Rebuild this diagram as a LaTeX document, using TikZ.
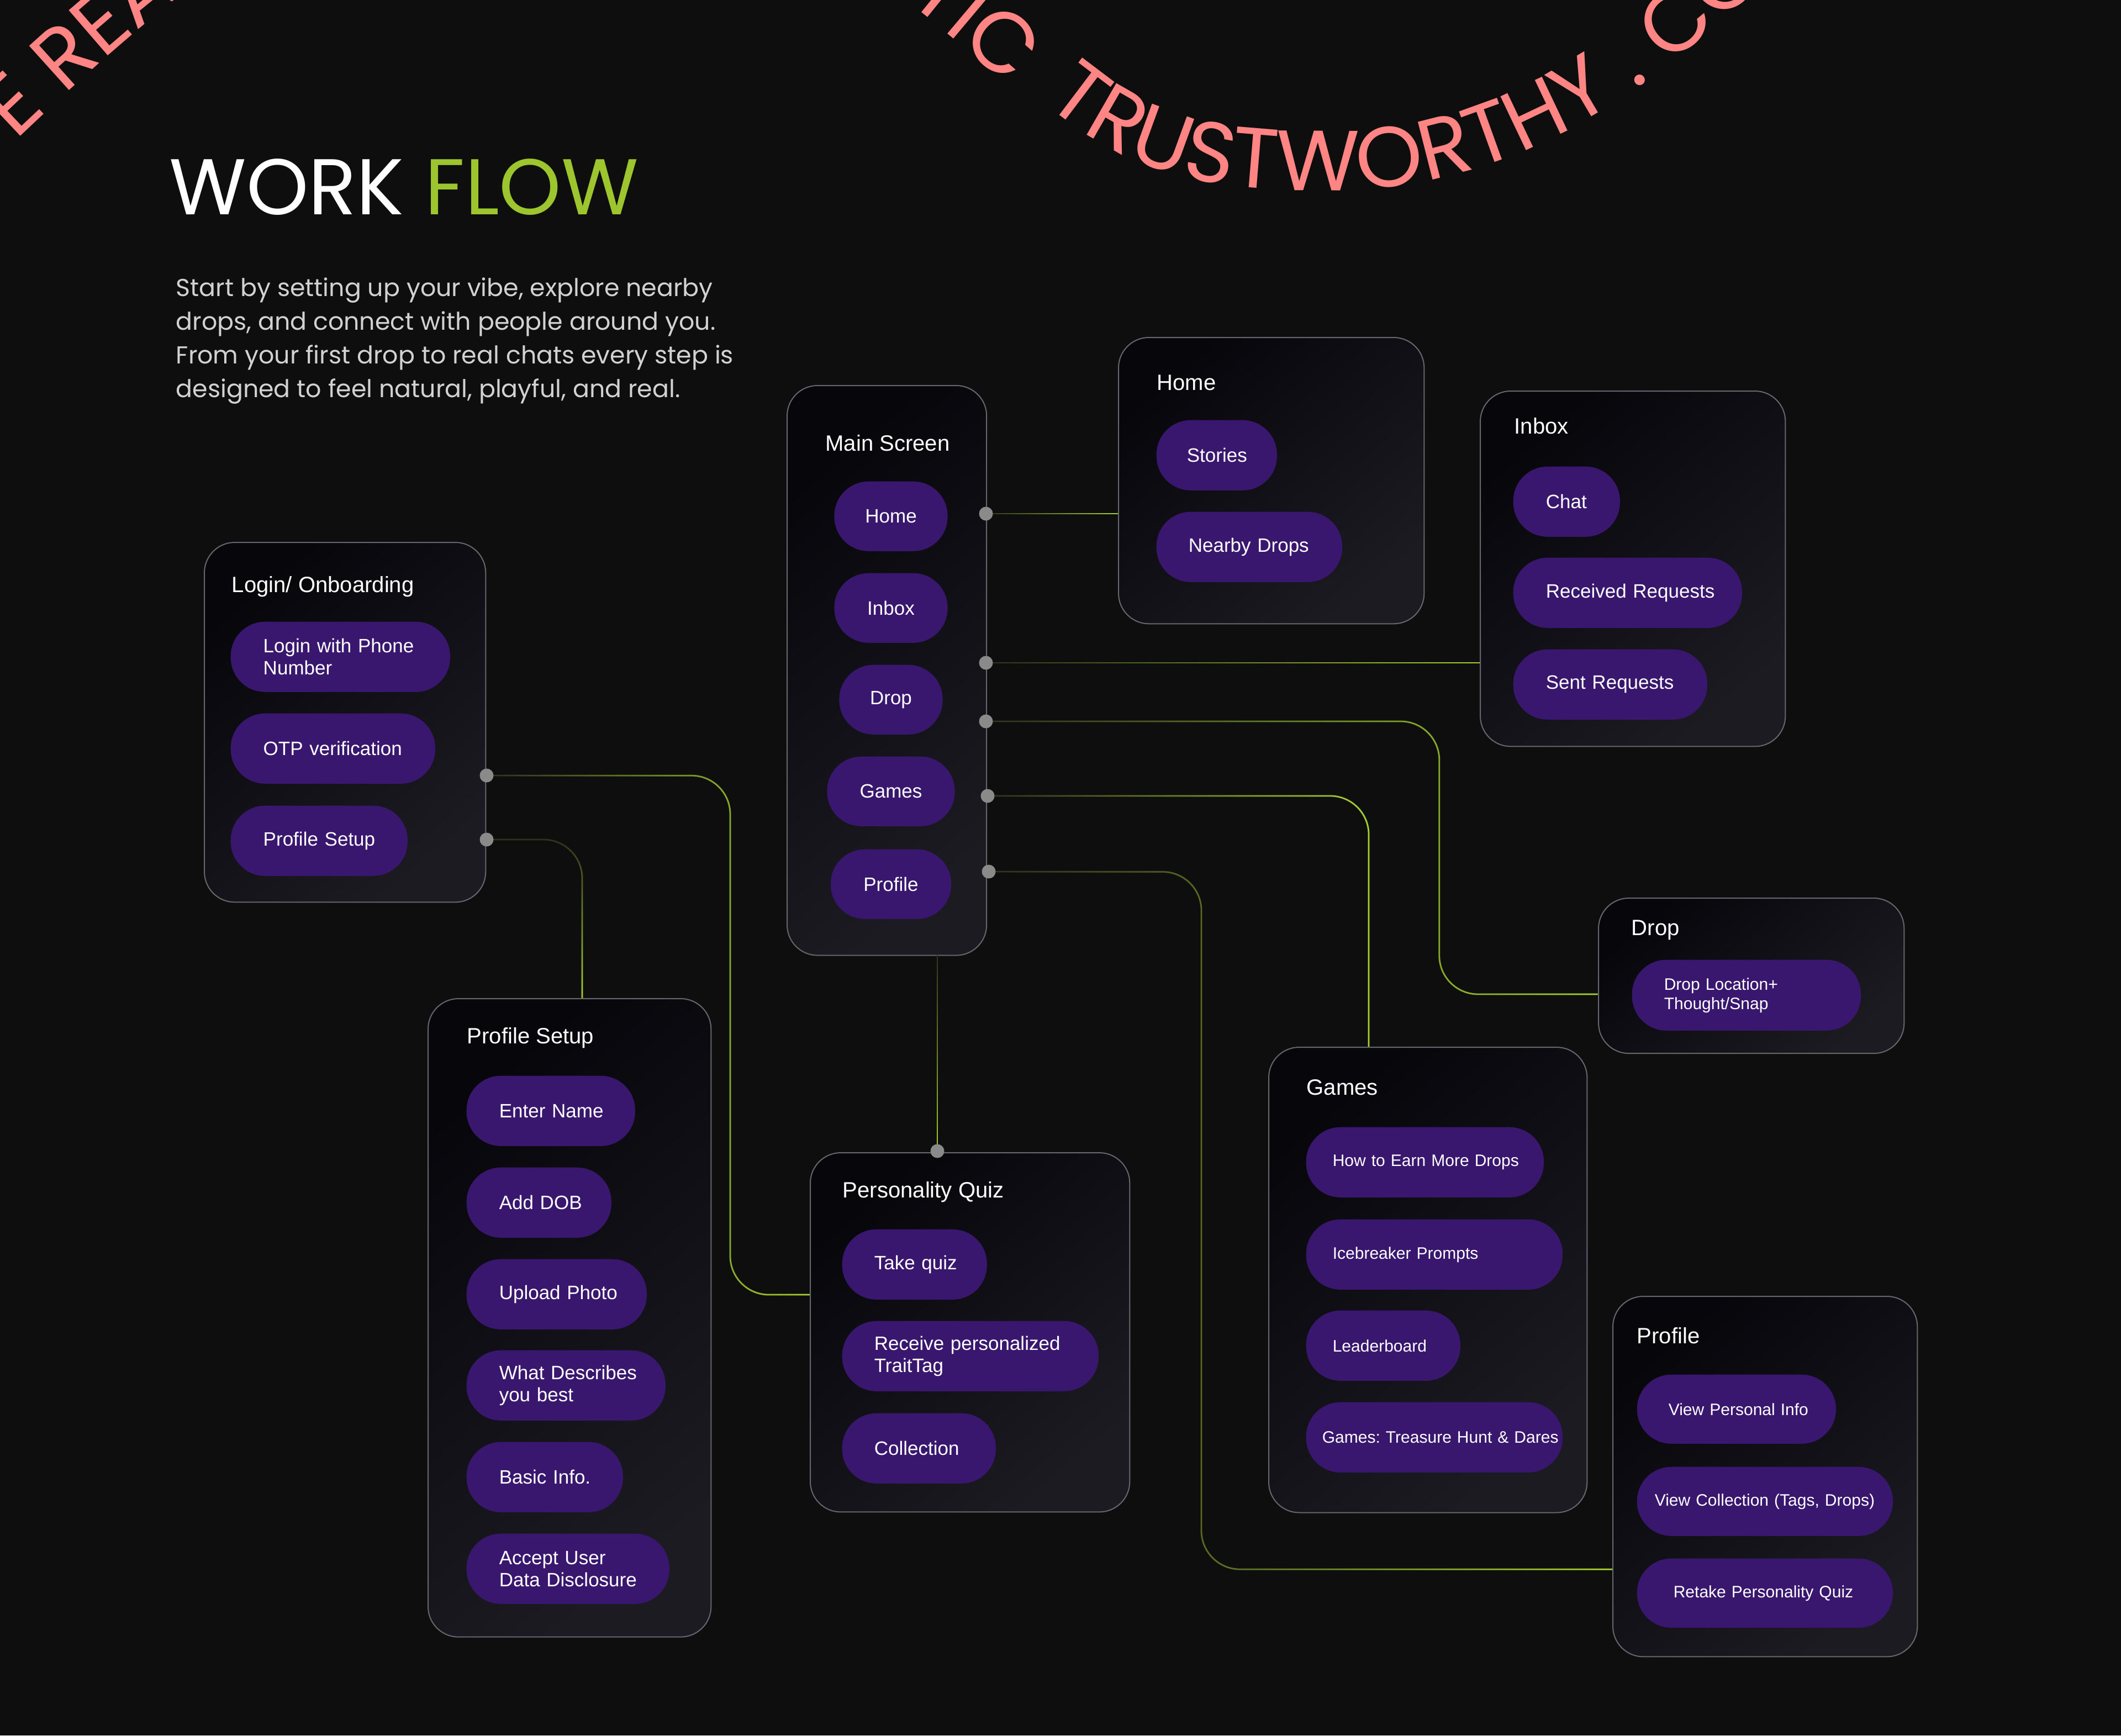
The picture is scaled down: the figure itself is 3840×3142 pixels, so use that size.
\documentclass[tikz,border=0pt]{standalone}
\usepackage{fontspec}
\setmainfont{Liberation Sans}
\newfontfamily\popfont{Poppins}
\usetikzlibrary{decorations.text,fadings}
\definecolor{bg}{HTML}{0E0E0E}
\definecolor{pillc}{HTML}{3A176E}
\definecolor{lime}{HTML}{9CC52E}
\definecolor{limeline}{HTML}{A6D22C}
\definecolor{dimline}{HTML}{2E321F}
\definecolor{panelA}{HTML}{07060B}
\definecolor{panelB}{HTML}{1C1B22}
\definecolor{border}{HTML}{66666E}
\definecolor{dotc}{HTML}{8A8A8A}
\definecolor{wave}{HTML}{FF8585}
\definecolor{para}{HTML}{D2D2D2}
\tikzfading[name=fadeR, left color=transparent!100, right color=transparent!0]
\tikzfading[name=fadeD, top color=transparent!100, bottom color=transparent!0]
\newcommand\wavefont{\popfont\fontsize{44}{44}\selectfont}
\newcommand\titlefont{\popfont\fontsize{40.7}{48}\selectfont}
\newcommand\parafont{\popfont\fontsize{12.6}{17.4}\selectfont}
\newcommand\ptitlefont{\fontsize{11.4}{13.7}\selectfont}
\newcommand\pillfont{\fontsize{9.96}{11.4}\selectfont}
\newcommand\spillfont{\fontsize{8.54}{9.96}\selectfont}
\newcommand\nb[1]{\mbox{#1}}
\frenchspacing
\begin{document}
\begin{tikzpicture}[x=0.01cm,y=-0.01cm,
  panel/.style={draw=border, line width=0.02cm, rounded corners=0.55cm, top color=panelA, bottom color=panelB, shading angle=40, anchor=north west, inner sep=0pt},
  ptitle/.style={anchor=base west, text=white, font=\ptitlefont, inner sep=0pt},
  pill/.style={fill=pillc, rounded corners=0.62cm, anchor=north west, minimum height=1.27cm, inner ysep=0pt, align=left, text=white, font=\pillfont},
  spill/.style={pill, font=\spillfont},
  mpill/.style={fill=pillc, rounded corners=0.62cm, anchor=north, minimum height=1.26cm, inner sep=0pt, align=center, text=white, font=\pillfont},
  dot/.style={circle, fill=dotc, inner sep=0pt, minimum size=0.25cm},
  conn/.style={line width=0.028cm, rounded corners=0.7cm},
  para/.style={anchor=base west, inner sep=0pt, text=para, font=\parafont}
]
\useasboundingbox (0,0) rectangle (3840,3142);
\fill[bg] (0,0) rectangle (3840,3142);

% wave text
\begin{scope}
\clip (0,0) rectangle (3840,3142);
\path[decorate, decoration={text along path, text color=wave, text={|\wavefont|SAFE REAL}, text align={left, left indent=3.65cm}}]
  (-425,705) -- (-125,405) .. controls (275,5) and (625,-295) .. (975,-295);
\path[decorate, decoration={text along path, text color=wave, text={|\wavefont|AUTHENTIC}, text align={right, right indent=0.2cm}}]
  (950,-300) .. controls (1300,-300) and (1640,-10) .. (1840,170);
\path[decorate, decoration={text along path, text color=wave, text={|\wavefont|TRUSTWORTHY . CONNECT}, text align={left, left indent=0.55cm}}]
  (1850,150) .. controls (2030,316) and (2170,345) .. (2400,345) .. controls (2650,345) and (2850,250) .. (3030,110) .. controls (3200,-22) and (3350,-200) .. (3550,-350);
\end{scope}

% title and intro
\node[anchor=base west, inner sep=0pt, font=\titlefont, text=white] (title) at (306,388) {WORK \textcolor{lime}{FLOW}};
\node[para] (p1) at (318,536) {Start by setting up your vibe, explore nearby};
\node[para] (p2) at (318,597) {drops, and connect with people around you.};
\node[para] (p3) at (318,658) {From your first drop to real chats every step is};
\node[para] (p4) at (318,719) {designed to feel natural, playful, and real.};

% panels
\node[panel, minimum width=5.09cm, minimum height=6.51cm] (login) at (369,981) {};
\node[panel, minimum width=3.61cm, minimum height=10.31cm] (main) at (1424,697) {};
\node[panel, minimum width=5.53cm, minimum height=5.18cm] (home) at (2024,610) {};
\node[panel, minimum width=5.52cm, minimum height=6.43cm] (inbox) at (2679,707) {};
\node[panel, minimum width=5.53cm, minimum height=2.81cm] (drop) at (2893,1625) {};
\node[panel, minimum width=5.76cm, minimum height=8.42cm] (games) at (2296,1895) {};
\node[panel, minimum width=5.51cm, minimum height=6.52cm] (profile) at (2919,2346) {};
\node[panel, minimum width=5.12cm, minimum height=11.55cm] (psetup) at (774,1807) {};
\node[panel, minimum width=5.78cm, minimum height=6.50cm] (quiz) at (1466,2086) {};

% panel titles
\node[ptitle] (loginT) at (419,1072) {Login/ Onboarding};
\node[ptitle, anchor=base] (mainT) at (1607,816) {Main Screen};
\node[ptitle] (homeT) at (2094,706) {Home};
\node[ptitle] (inboxT) at (2741,785) {Inbox};
\node[ptitle] (dropT) at (2953,1693) {Drop};
\node[ptitle] (gamesT) at (2365,1982) {Games};
\node[ptitle] (profileT) at (2963,2432) {Profile};
\node[ptitle] (psetupT) at (845,1889) {Profile Setup};
\node[ptitle] (quizT) at (1525,2168) {Personality Quiz};

% login pills
\node[pill, text width=2.79cm, inner xsep=0.59cm] (lp1) at (417,1125) {\nb{Login with Phone}\\\nb{Number}};
\node[pill, text width=2.52cm, inner xsep=0.59cm] (lp2) at (417,1291) {\nb{OTP verification}};
\node[pill, text width=2.02cm, inner xsep=0.59cm] (lp3) at (417,1458) {\nb{Profile Setup}};

% main screen pills
\node[mpill, minimum width=2.05cm] (m1) at (1613,871) {Home};
\node[mpill, minimum width=2.05cm] (m2) at (1613,1037) {Inbox};
\node[mpill, minimum width=1.87cm] (m3) at (1613,1203) {Drop};
\node[mpill, minimum width=2.31cm] (m4) at (1613,1369) {Games};
\node[mpill, minimum width=2.18cm] (m5) at (1613,1537) {Profile};

% home pills
\node[pill, text width=1.08cm, inner xsep=0.55cm] (h1) at (2093,760) {\nb{Stories}};
\node[pill, text width=2.20cm, inner xsep=0.58cm] (h2) at (2093,926) {\nb{Nearby Drops}};

% inbox pills
\node[pill, text width=0.75cm, inner xsep=0.59cm] (i1) at (2739,844) {\nb{Chat}};
\node[pill, text width=2.96cm, inner xsep=0.59cm] (i2) at (2739,1009) {\nb{Received Requests}};
\node[pill, text width=2.33cm, inner xsep=0.59cm] (i3) at (2739,1175) {\nb{Sent Requests}};

% drop pill
\node[spill, minimum height=1.28cm, text width=2.98cm, inner xsep=0.58cm] (d1) at (2954,1737) {\nb{Drop Location+}\\\nb{Thought/Snap}};

% games pills
\node[spill, text width=3.34cm, inner xsep=0.48cm] (g1) at (2364,2040) {\nb{How to Earn More Drops}};
\node[spill, text width=3.68cm, inner xsep=0.48cm] (g2) at (2364,2207) {\nb{Icebreaker Prompts}};
\node[spill, text width=1.83cm, inner xsep=0.48cm] (g3) at (2364,2372) {\nb{Leaderboard}};
\node[spill, text width=4.06cm, inner xsep=0.29cm] (g4) at (2364,2538) {\nb{Games: Treasure Hunt \& Dares}};

% profile pills
\node[spill, minimum height=1.25cm, text width=2.46cm, inner xsep=0.57cm] (pr1) at (2963,2488) {\nb{View Personal Info}};
\node[spill, minimum height=1.25cm, text width=3.99cm, inner xsep=0.32cm] (pr2) at (2963,2655) {\nb{View Collection (Tags, Drops)}};
\node[spill, minimum height=1.25cm, text width=3.31cm, inner xsep=0.66cm] (pr3) at (2963,2821) {\nb{Retake Personality Quiz}};

% profile setup pills
\node[pill, text width=1.87cm, inner xsep=0.59cm] (s1) at (844,1947) {\nb{Enter Name}};
\node[pill, text width=1.44cm, inner xsep=0.59cm] (s2) at (844,2113) {\nb{Add DOB}};
\node[pill, text width=2.08cm, inner xsep=0.59cm] (s3) at (844,2279) {\nb{Upload Photo}};
\node[pill, text width=2.42cm, inner xsep=0.59cm] (s4) at (844,2444) {\nb{What Describes}\\\nb{you best}};
\node[pill, text width=1.65cm, inner xsep=0.59cm] (s5) at (844,2610) {\nb{Basic Info.}};
\node[pill, text width=2.49cm, inner xsep=0.59cm] (s6) at (844,2776) {\nb{Accept User}\\\nb{Data Disclosure}};

% quiz pills
\node[pill, text width=1.46cm, inner xsep=0.58cm] (q1) at (1524,2225) {\nb{Take quiz}};
\node[pill, text width=3.48cm, inner xsep=0.58cm] (q2) at (1524,2391) {\nb{Receive personalized}\\\nb{TraitTag}};
\node[pill, text width=1.62cm, inner xsep=0.58cm] (q3) at (1524,2558) {\nb{Collection}};

% connector points
\coordinate (dL1) at (881,1404);
\coordinate (dL2) at (881,1520);
\coordinate (dM1) at (1785,930);
\coordinate (dM2) at (1785,1200);
\coordinate (dM3) at (1785,1306);
\coordinate (dM4) at (1788,1441);
\coordinate (dM5) at (1790,1578);
\coordinate (dQ) at (1697,2084);
\coordinate (mainB) at (1697,1728);
\coordinate (k3) at (2606,1306);
\coordinate (k4) at (2478,1441);
\coordinate (k5) at (2175,1578);
\coordinate (k6) at (1322,1404);
\coordinate (k7) at (1054,1520);
\coordinate (dropW) at (2893,1800);
\coordinate (profW) at (2919,2841);
\coordinate (quizW) at (1466,2344);

% connectors: dim base
\draw[conn, dimline] (dM1) -- (dM1 -| home.west);
\draw[conn, dimline] (dM2) -- (dM2 -| inbox.west);
\draw[conn, dimline] (dM3) -- (k3) -- (k3 |- dropW) -- (dropW);
\draw[conn, dimline] (dM4) -- (k4) -- (k4 |- games.north);
\draw[conn, dimline] (dM5) -- (k5) -- (k5 |- profW) -- (profW);
\draw[conn, dimline] (dL1) -- (k6) -- (k6 |- quizW) -- (quizW);
\draw[conn, dimline] (dL2) -- (k7) -- (k7 |- psetup.north);
\draw[conn, dimline] (mainB) -- (dQ);
% connectors: lime overlay
\draw[conn, limeline, path fading=fadeR] (dM1) -- (dM1 -| home.west) ++(0,6) ++(0,-12);
\draw[conn, limeline, path fading=fadeR] (dM2) -- (dM2 -| inbox.west) ++(0,6) ++(0,-12);
\draw[conn, limeline, path fading=fadeR] (dM3) -- (k3) -- (k3 |- dropW) -- (dropW);
\draw[conn, limeline, path fading=fadeR] (dM4) -- (k4) -- (k4 |- games.north);
\draw[conn, limeline, path fading=fadeR] (dM5) -- (k5) -- (k5 |- profW) -- (profW);
\draw[conn, limeline, path fading=fadeR] (dL1) -- (k6) -- (k6 |- quizW) -- (quizW);
\draw[conn, limeline, path fading=fadeD] (dL2) -- (k7) -- (k7 |- psetup.north);
\draw[conn, limeline, path fading=fadeD] (mainB) -- (dQ) ++(6,0) ++(-12,0);

% dots
\node[dot] (nL1) at (dL1) {};
\node[dot] (nL2) at (dL2) {};
\node[dot] (nM1) at (dM1) {};
\node[dot] (nM2) at (dM2) {};
\node[dot] (nM3) at (dM3) {};
\node[dot] (nM4) at (dM4) {};
\node[dot] (nM5) at (dM5) {};
\node[dot] (nQ) at (dQ) {};
\end{tikzpicture}
\end{document}
